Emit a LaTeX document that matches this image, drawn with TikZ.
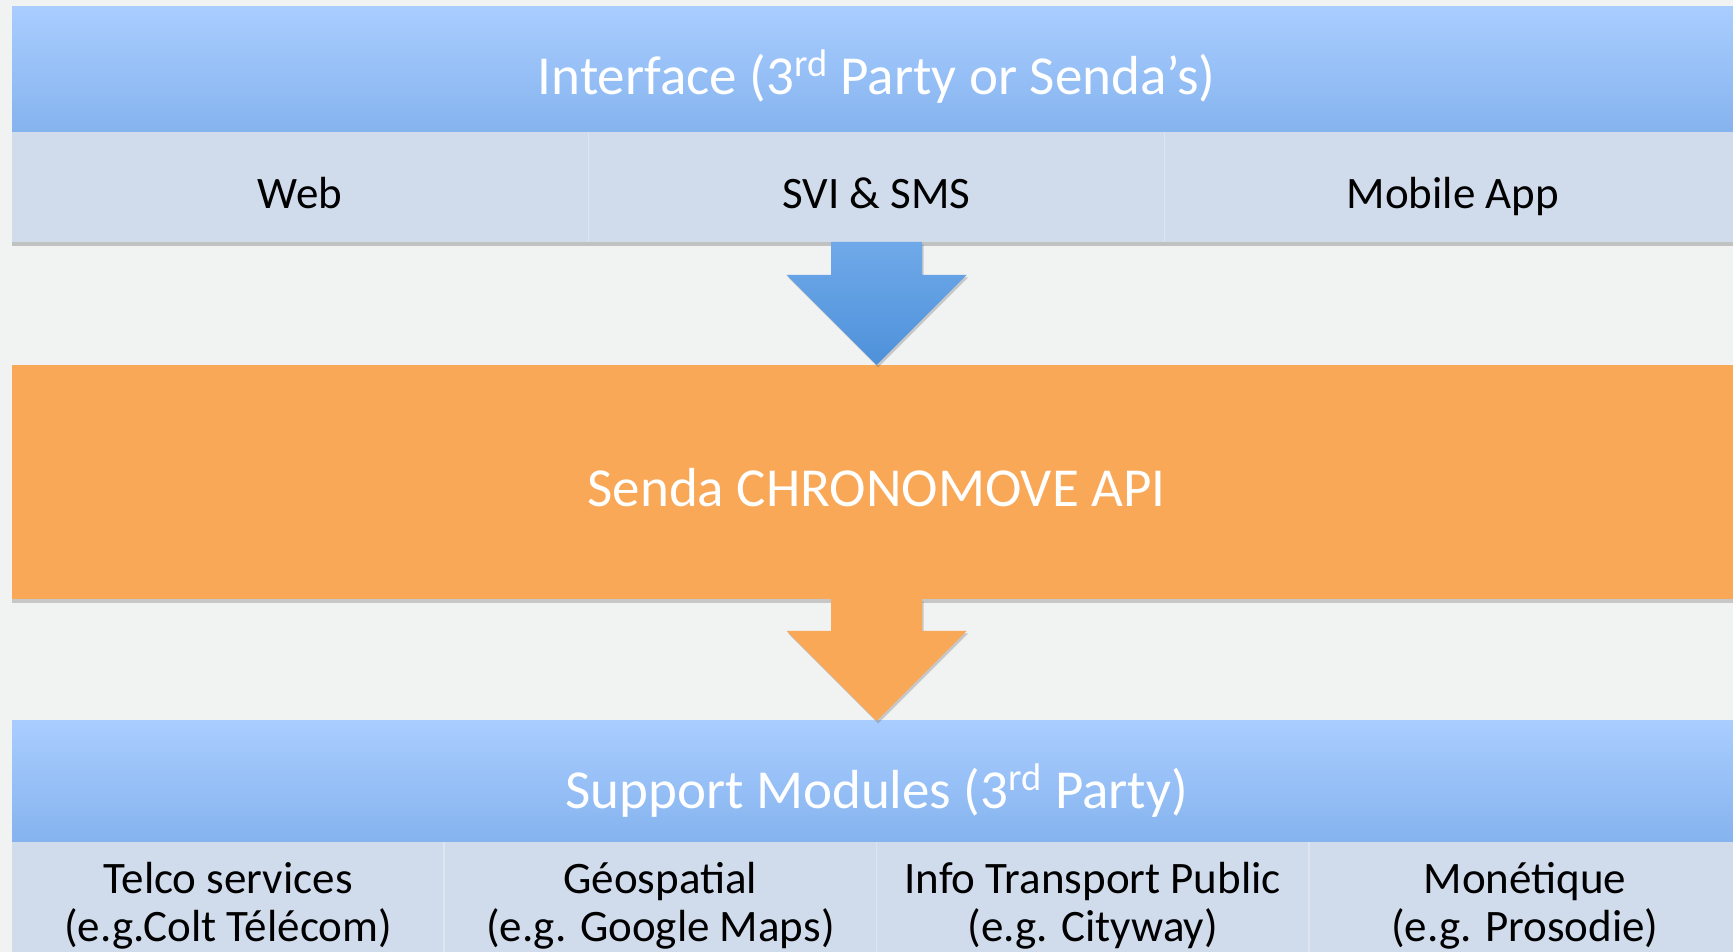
\documentclass[tikz,border=0pt]{standalone}
\usepackage{fontspec}
\setmainfont{Carlito}
\definecolor{bgcolor}{RGB}{241,242,242}
\definecolor{headtop}{RGB}{169,205,255}
\definecolor{headbot}{RGB}{133,179,238}
\definecolor{cellfill}{RGB}{208,219,236}
\definecolor{cellline}{RGB}{222,229,241}
\definecolor{apiorange}{RGB}{249,168,87}
\definecolor{arrowtop}{RGB}{111,169,233}
\definecolor{arrowbot}{RGB}{78,145,218}
\usetikzlibrary{positioning, calc, shadows}

\begin{document}
\begin{tikzpicture}
    % Styles
    \tikzstyle{head}=[top color=headtop, bottom color=headbot, minimum width=864.5pt, minimum height=62.5pt, inner sep=0pt, outer sep=0pt, text=white, font=\fontsize{27.5}{30}\selectfont, text height=31.6pt, text depth=6.9pt]
    \tikzstyle{cell}=[fill=cellfill, minimum height=55pt, inner sep=0pt, outer sep=0pt, align=center, font=\fontsize{22.5}{23.75}\selectfont, text height=27pt, text depth=5pt, drop shadow={shadow xshift=0pt, shadow yshift=-1.8pt, opacity=0.35, fill=black!60}]
    \tikzstyle{module}=[cell, minimum width=216.125pt, minimum height=62.5pt, text height=37pt, text depth=0pt]
    \tikzstyle{core}=[fill=apiorange, minimum width=864.5pt, minimum height=117pt, inner sep=0pt, outer sep=0pt, text=white, font=\fontsize{27.5}{30}\selectfont, text height=31.6pt, text depth=6.9pt, drop shadow={shadow xshift=0pt, shadow yshift=-1.8pt, opacity=0.3, fill=black!60}]
    \tikzstyle{divider}=[cellline, line width=0.8pt]
    \tikzstyle{bigarrow}=[drop shadow={shadow xshift=0.8pt, shadow yshift=-1.2pt, opacity=0.3, fill=black!60}]

    % Canvas
    \useasboundingbox (0,0) rectangle (866.5pt,476pt);
    \fill[bgcolor] (0,0) rectangle (866.5pt,476pt);

    % Interface
    \node[head, anchor=north west] (iface) at (6pt,472.5pt) {Interface (3\textsuperscript{rd} Party or Senda’s)};
    \node[cell, anchor=north west, minimum width=288.17pt] (web) at (iface.south west) {Web};
    \node[cell, right=0pt of web, minimum width=288.17pt] (svi) {SVI \& SMS};
    \node[cell, right=0pt of svi, minimum width=288.17pt] (mobile) {Mobile App};
    \draw[divider] (web.north east) -- (web.south east);
    \draw[divider] (svi.north east) -- (svi.south east);

    % Senda API
    \node[core, below=61.5pt of svi] (core) {Senda CHRONOMOVE API};

    % Support modules
    \node[head, below=61pt of core, minimum height=60.5pt, text height=34.4pt] (support) {Support Modules (3\textsuperscript{rd} Party)};
    \node[module, anchor=north west] (telco) at (support.south west) {Telco services\\(e.g.Colt Télécom)};
    \node[module, right=0pt of telco] (geo) {Géospatial\\(e.g. Google Maps)};
    \node[module, right=0pt of geo] (transport) {Info Transport Public\\(e.g. Cityway)};
    \node[module, right=0pt of transport] (money) {Monétique\\(e.g. Prosodie)};
    \draw[divider] (telco.north east) -- (telco.south east);
    \draw[divider] (geo.north east) -- (geo.south east);
    \draw[divider] (transport.north east) -- (transport.south east);

    % Arrows
    \shade[bigarrow, top color=arrowtop, bottom color=arrowbot] ([xshift=-22.75pt]svi.south) -- ([xshift=22.75pt]svi.south) -- ([xshift=22.75pt,yshift=45pt]core.north) -- ([xshift=45pt,yshift=45pt]core.north) -- (core.north) -- ([xshift=-45pt,yshift=45pt]core.north) -- ([xshift=-22.75pt,yshift=45pt]core.north) -- cycle;
    \fill[bigarrow, apiorange] ([xshift=-22.75pt]core.south) -- ([xshift=22.75pt]core.south) -- ([xshift=22.75pt,yshift=45pt]support.north) -- ([xshift=45pt,yshift=45pt]support.north) -- (support.north) -- ([xshift=-45pt,yshift=45pt]support.north) -- ([xshift=-22.75pt,yshift=45pt]support.north) -- cycle;
\end{tikzpicture}
\end{document}
